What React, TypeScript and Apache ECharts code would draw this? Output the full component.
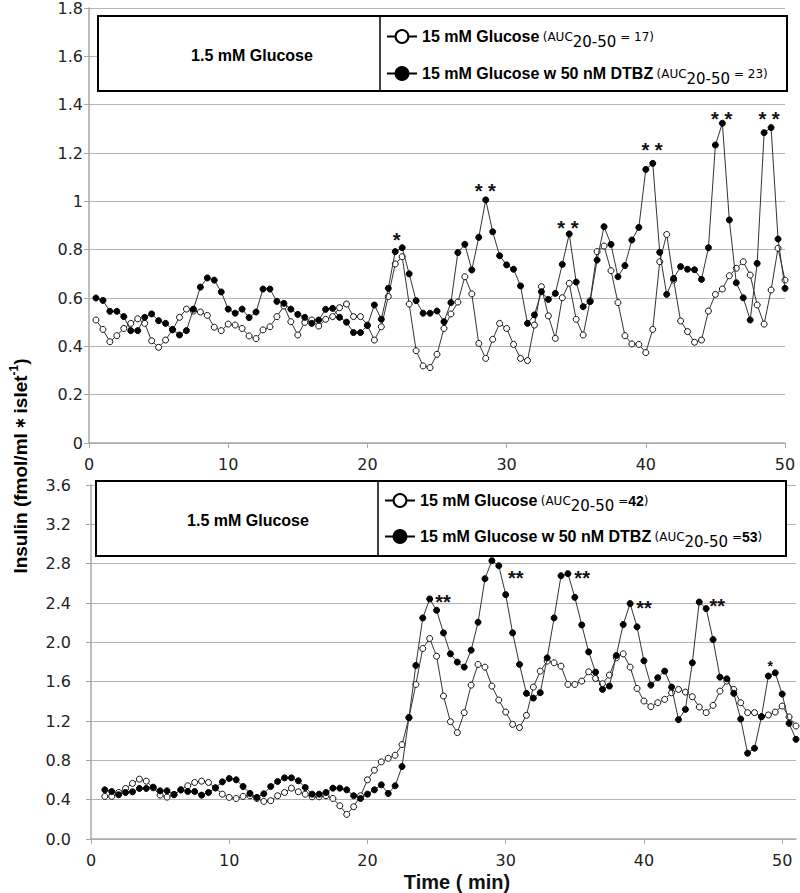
import React, { useEffect, useRef } from "react";
import * as echarts from "echarts";

// ---------- DATA ----------
const NAME_G = "15 mM Glucose";
const NAME_D = "15 mM Glucose w 50 nM DTBZ";

// sampling grid (min): top panel 0.5..50 every 0.5 ; bottom panel 1..51 every 0.5
const topTimes: number[] = Array.from({ length: 100 }, (_, i) => 0.5 + i * 0.5);
const bottomTimes: number[] = Array.from({ length: 101 }, (_, i) => 1 + i * 0.5);

const topGlucose = [
  0.509, 0.47, 0.419, 0.444, 0.474, 0.495, 0.514, 0.495, 0.423, 0.396,
  0.426, 0.468, 0.52, 0.554, 0.546, 0.542, 0.528, 0.479, 0.465, 0.492,
  0.488, 0.474, 0.443, 0.432, 0.468, 0.481, 0.523, 0.567, 0.502, 0.447,
  0.499, 0.509, 0.484, 0.512, 0.523, 0.56, 0.575, 0.523, 0.523, 0.488,
  0.426, 0.481, 0.606, 0.741, 0.771, 0.575, 0.382, 0.319, 0.312, 0.367,
  0.474, 0.534, 0.583, 0.688, 0.617, 0.412, 0.35, 0.429, 0.495, 0.474,
  0.408, 0.35, 0.341, 0.488, 0.647, 0.526, 0.433, 0.601, 0.661, 0.512,
  0.447, 0.589, 0.792, 0.815, 0.713, 0.581, 0.444, 0.41, 0.408, 0.374,
  0.47, 0.75, 0.863, 0.674, 0.505, 0.461, 0.417, 0.426, 0.546, 0.615,
  0.637, 0.692, 0.723, 0.75, 0.695, 0.571, 0.492, 0.633, 0.806, 0.674,
];

const topDTBZ = [
  0.6, 0.59, 0.545, 0.545, 0.523, 0.465, 0.465, 0.52, 0.534, 0.506,
  0.495, 0.47, 0.447, 0.465, 0.554, 0.645, 0.683, 0.674, 0.625, 0.554,
  0.537, 0.554, 0.519, 0.542, 0.637, 0.637, 0.586, 0.578, 0.554, 0.532,
  0.52, 0.495, 0.509, 0.553, 0.557, 0.52, 0.5, 0.457, 0.457, 0.486,
  0.571, 0.512, 0.64, 0.792, 0.808, 0.7, 0.589, 0.537, 0.537, 0.546,
  0.502, 0.581, 0.788, 0.822, 0.716, 0.851, 1.006, 0.874, 0.775, 0.737,
  0.719, 0.65, 0.495, 0.53, 0.626, 0.594, 0.619, 0.739, 0.865, 0.666,
  0.564, 0.585, 0.757, 0.895, 0.822, 0.688, 0.734, 0.84, 0.892, 1.132,
  1.157, 0.789, 0.615, 0.681, 0.73, 0.719, 0.717, 0.677, 0.808, 1.233,
  1.323, 0.923, 0.663, 0.601, 0.509, 0.743, 1.284, 1.305, 0.844, 0.64,
];

const bottomGlucose = [
  0.433, 0.433, 0.473, 0.514, 0.565, 0.609, 0.588, 0.52, 0.446, 0.426,
  0.45, 0.5, 0.541, 0.575, 0.588, 0.575, 0.52, 0.456, 0.423, 0.412,
  0.433, 0.44, 0.412, 0.382, 0.389, 0.44, 0.473, 0.517, 0.48, 0.456,
  0.429, 0.429, 0.44, 0.412, 0.338, 0.25, 0.328, 0.44, 0.602, 0.7,
  0.784, 0.821, 0.852, 0.96, 1.234, 1.572, 1.937, 2.039, 1.859, 1.454,
  1.193, 1.082, 1.285, 1.565, 1.775, 1.748, 1.555, 1.413, 1.291, 1.166,
  1.133, 1.258, 1.545, 1.707, 1.809, 1.792, 1.758, 1.572, 1.572, 1.606,
  1.7, 1.633, 1.579, 1.667, 1.843, 1.883, 1.748, 1.531, 1.403, 1.346,
  1.386, 1.42, 1.487, 1.521, 1.494, 1.447, 1.342, 1.285, 1.359, 1.504,
  1.606, 1.521, 1.386, 1.285, 1.285, 1.244, 1.261, 1.291, 1.352, 1.241,
  1.149,
];

const bottomDTBZ = [
  0.5, 0.483, 0.45, 0.473, 0.48, 0.514, 0.514, 0.527, 0.49, 0.49,
  0.453, 0.5, 0.483, 0.483, 0.446, 0.473, 0.52, 0.581, 0.615, 0.602,
  0.534, 0.463, 0.423, 0.46, 0.534, 0.585, 0.622, 0.622, 0.592, 0.524,
  0.456, 0.456, 0.473, 0.517, 0.517, 0.5, 0.44, 0.412, 0.456, 0.5,
  0.551, 0.463, 0.541, 0.737, 1.234, 1.765, 2.248, 2.441, 2.326, 2.096,
  1.883, 1.799, 1.748, 1.92, 2.204, 2.647, 2.83, 2.779, 2.485, 2.096,
  1.775, 1.481, 1.433, 1.488, 1.842, 2.248, 2.677, 2.698, 2.458, 2.177,
  1.903, 1.697, 1.521, 1.555, 1.866, 2.181, 2.394, 2.157, 1.812, 1.565,
  1.64, 1.707, 1.545, 1.214, 1.318, 1.792, 2.41, 2.343, 2.028, 1.646,
  1.629, 1.481, 1.22, 0.872, 0.923, 1.244, 1.657, 1.69, 1.474, 1.176,
  1.014,
];

// significance marks: [time, insulin, text]
const topStars: [number, number, string][] = [
  [22.1, 0.861, "*"],
  [28.47, 1.063, "* *"],
  [34.4, 0.911, "* *"],
  [40.45, 1.233, "* *"],
  [45.45, 1.361, "* *"],
  [48.85, 1.361, "* *"],
];
const bottomStars: [number, number, string][] = [
  [25.47, 2.457, "**"],
  [30.73, 2.705, "**"],
  [35.53, 2.705, "**"],
  [40.01, 2.4, "**"],
  [45.3, 2.417, "**"],
];
const bottomSmallStars: [number, number, string][] = [[49.13, 1.792, "*"]];

const topAUC = { glucose: "17", dtbz: "23" };
const bottomAUC = { glucose: "42", dtbz: "53" };

const xTicks = [0, 10, 20, 30, 40, 50];

// ---------- helpers ----------
const pair = (t: number[], v: number[]) => v.map((y, i) => [t[i], y]);

const TICK_FONT = "DejaVu Sans";
const AR = "Liberation Sans";

export default function App() {
  const ref = useRef<HTMLDivElement>(null);

  useEffect(() => {
    if (!ref.current) return;
    const chart = echarts.init(ref.current, undefined, { renderer: "svg" });

    const lineStyle = { color: "#333", width: 1 };
    const openItem = { color: "#fff", borderColor: "#111", borderWidth: 1 };
    const fillItem = { color: "#000", borderColor: "#000", borderWidth: 1 };

    const starMark = (arr: [number, number, string][], size: number) => ({
      symbol: "circle",
      symbolSize: 0.1,
      silent: true,
      itemStyle: { color: "rgba(0,0,0,0)" },
      label: {
        show: true,
        position: "inside",
        formatter: (p: any) => p.name,
        fontFamily: AR,
        fontWeight: "bold",
        fontSize: size,
        color: "#111",
        offset: [0, size * 0.25],
      },
      data: arr.map(([t, v, s]) => ({ name: s, coord: [t, v] })),
    });

    const rich = {
      b: { fontFamily: AR, fontWeight: "bold", fontSize: 16, lineHeight: 24, color: "#000" },
      a: { fontFamily: TICK_FONT, fontSize: 12, lineHeight: 14, verticalAlign: "middle", color: "#000" },
      n: { fontFamily: AR, fontWeight: "bold", fontSize: 14, lineHeight: 14, verticalAlign: "middle", color: "#000" },
      s: { fontFamily: TICK_FONT, fontSize: 15, lineHeight: 16, verticalAlign: "middle", padding: [10, 0, 0, 0], color: "#000" },
    };

    const legendBase = {
      orient: "vertical",
      padding: 0,
      itemWidth: 30,
      itemHeight: 16,
      selectedMode: false,
      data: [NAME_G, NAME_D],
      textStyle: { rich },
      lineStyle: { width: 2, color: "#000" },
      itemStyle: { borderWidth: 2, borderColor: "#000" },
      z: 10,
    };

    const yAxisBase = (gridIndex: number, max: number, interval: number, margin: number, dec: boolean) => ({
      type: "value",
      gridIndex,
      min: 0,
      max,
      interval,
      axisLine: { show: true, lineStyle: { color: "#a8a8a8", width: 1.5 } },
      axisTick: { show: true, length: 5, lineStyle: { color: "#a8a8a8" } },
      splitLine: { show: true, lineStyle: { color: "#b4b4b4", width: 1.2 } },
      axisLabel: {
        margin,
        fontFamily: TICK_FONT,
        fontSize: 16,
        color: "#222",
        formatter: (v: number) => (dec ? v.toFixed(1) : String(Math.round(v * 10) / 10)),
      },
    });

    const xAxisBase = (gridIndex: number, max: number) => ({
      type: "value",
      gridIndex,
      min: 0,
      max,
      interval: 10,
      axisLine: { show: true, onZero: false, lineStyle: { color: "#a8a8a8", width: 1.5 } },
      axisTick: { show: true, length: 5, customValues: xTicks, lineStyle: { color: "#a8a8a8" } },
      splitLine: { show: false },
      axisLabel: {
        margin: 13,
        fontFamily: TICK_FONT,
        fontSize: 16,
        color: "#222",
        customValues: xTicks,
      },
    });

    chart.setOption({
      animation: false,
      backgroundColor: "#fff",
      grid: [
        { left: 89, right: 15, top: 8, bottom: 450 },
        { left: 91, right: 4, top: 485, bottom: 53 },
      ],
      xAxis: [
        xAxisBase(0, 50),
        {
          ...xAxisBase(1, 51),
          name: "Time ( min)",
          nameLocation: "middle",
          nameGap: 33,
          nameTextStyle: { fontFamily: AR, fontWeight: "bold", fontSize: 20, color: "#111", padding: [0, 0, 0, 27] },
        },
      ],
      yAxis: [yAxisBase(0, 1.8, 0.2, 6, false), yAxisBase(1, 3.6, 0.4, 20, true)],
      legend: [
        {
          ...legendBase,
          left: 386,
          top: 24,
          itemGap: 12,
          formatter: (n: string) =>
            n === NAME_G
              ? `{b|${n}} {a|(AUC}{s|20-50}{a| = ${topAUC.glucose})}`
              : `{b|${n}} {a|(AUC}{s|20-50}{a| = ${topAUC.dtbz})}`,
        },
        {
          ...legendBase,
          left: 384,
          top: 488,
          itemGap: 11,
          formatter: (n: string) =>
            n === NAME_G
              ? `{b|${n}} {a|(AUC}{s|20-50}{a| =}{n|${bottomAUC.glucose}}{a|)}`
              : `{b|${n}} {a|(AUC}{s|20-50}{a| =}{n|${bottomAUC.dtbz}}{a|)}`,
        },
      ],
      graphic: [
        { type: "rect", z: 5, shape: { x: 98, y: 16, width: 689, height: 75 }, style: { fill: "#fff", stroke: "#000", lineWidth: 2 } },
        { type: "line", z: 6, shape: { x1: 380, y1: 16, x2: 380, y2: 91 }, style: { stroke: "#000", lineWidth: 1.5 } },
        {
          type: "text", z: 6, x: 252, y: 55,
          style: { text: "1.5 mM Glucose", font: `bold 16px "${AR}"`, fill: "#000", align: "center", verticalAlign: "middle" },
        },
        { type: "rect", z: 5, shape: { x: 96, y: 481, width: 690, height: 75 }, style: { fill: "#fff", stroke: "#000", lineWidth: 2 } },
        { type: "line", z: 6, shape: { x1: 378, y1: 481, x2: 378, y2: 556 }, style: { stroke: "#000", lineWidth: 1.5 } },
        {
          type: "text", z: 6, x: 248, y: 520,
          style: { text: "1.5 mM Glucose", font: `bold 16px "${AR}"`, fill: "#000", align: "center", verticalAlign: "middle" },
        },
        {
          type: "text", z: 6, x: 20, y: 466, rotation: Math.PI / 2,
          style: {
            text: "{t|Insulin (fmol/ml}{m| ∗ }{t|islet}{p|-1}{t|)}",
            align: "center",
            verticalAlign: "middle",
            rich: {
              t: { fontFamily: AR, fontWeight: "bold", fontSize: 19, lineHeight: 24, color: "#111" },
              m: { fontFamily: AR, fontWeight: "bold", fontSize: 14, lineHeight: 24, color: "#111" },
              p: { fontFamily: AR, fontWeight: "bold", fontSize: 12, lineHeight: 14, verticalAlign: "top", color: "#111" },
            },
          },
        },
      ],
      series: [
        {
          name: NAME_G, type: "line", xAxisIndex: 0, yAxisIndex: 0,
          data: pair(topTimes, topGlucose), symbol: "circle", symbolSize: 6,
          lineStyle, itemStyle: openItem, z: 2,
        },
        {
          name: NAME_D, type: "line", xAxisIndex: 0, yAxisIndex: 0,
          data: pair(topTimes, topDTBZ), symbol: "circle", symbolSize: 6,
          lineStyle, itemStyle: fillItem, z: 3,
          markPoint: starMark(topStars, 20),
        },
        {
          name: NAME_G, type: "line", xAxisIndex: 1, yAxisIndex: 1,
          data: pair(bottomTimes, bottomGlucose), symbol: "circle", symbolSize: 6,
          lineStyle, itemStyle: openItem, z: 2,
        },
        {
          name: NAME_D, type: "line", xAxisIndex: 1, yAxisIndex: 1,
          data: pair(bottomTimes, bottomDTBZ), symbol: "circle", symbolSize: 6,
          lineStyle, itemStyle: fillItem, z: 3,
          markPoint: {
            ...starMark(bottomStars, 20),
            data: [
              ...bottomStars.map(([t, v, s]) => ({ name: s, coord: [t, v] })),
              ...bottomSmallStars.map(([t, v, s]) => ({ name: s, coord: [t, v], label: { fontSize: 14, offset: [0, 3.5] } })),
            ],
          },
        },
      ],
    });

    return () => chart.dispose();
  }, []);

  return (
    <div
      ref={ref}
      style={{ position: "absolute", left: 0, top: 0, width: 800, height: 893, background: "#fff" }}
    />
  );
}
